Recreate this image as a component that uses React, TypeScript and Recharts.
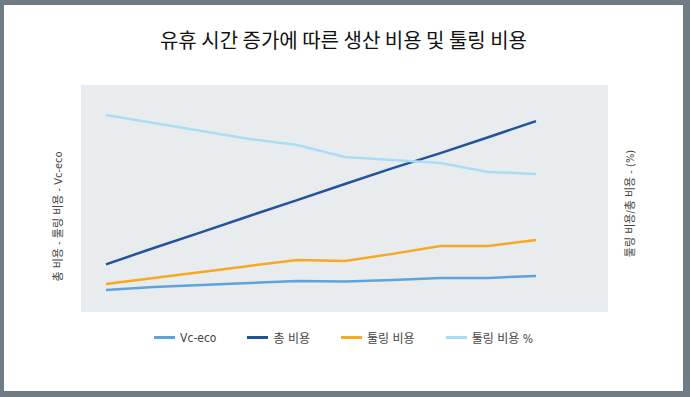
// Production cost vs. idle time line chart.
//
// Four series over ten idle-time steps: cutting cost (Vc-eco), total cost and
// tooling cost on the left axis, tooling share of total cost (%) on the right.
// The source has no tick labels, so both axes run 0-100 on a hidden scale.

import { CartesianGrid, Line, LineChart, XAxis, YAxis } from "recharts";

const steps = ["1", "2", "3", "4", "5", "6", "7", "8", "9", "10"];
const vcEco = [9.7, 11, 11.9, 12.8, 13.7, 13.4, 14.1, 15, 15, 15.9];
const totalCost = [21, 28.2, 35.2, 42.3, 49.3, 56.4, 63.4, 70, 77, 84.1];
const toolingCost = [12.3, 15, 17.6, 20.3, 22.9, 22.5, 25.6, 29.1, 29.1, 31.7];
const toolingShare = [86.8, 83.3, 79.7, 76.2, 73.6, 68.3, 67, 65.6, 61.7, 60.8];

const TITLE = "유휴 시간 증가에 따른 생산 비용 및 툴링 비용";
const LEFT_LABEL = "총 비용 - 툴링 비용 - Vc-eco";
const RIGHT_LABEL = "툴링 비용/총 비용 - (%)";

const SERIES = [
  { key: "vcEco", name: "Vc-eco", color: "#5ea3dc", axis: "left" },
  { key: "total", name: "총 비용", color: "#22529b", axis: "left" },
  { key: "tooling", name: "툴링 비용", color: "#f7a823", axis: "left" },
  { key: "share", name: "툴링 비용 %", color: "#abdcf7", axis: "right" },
];

const LABEL_FONT =
  "'Liberation Sans Narrow', 'DejaVu Sans Condensed', 'Noto Sans CJK KR', sans-serif";

const rows = steps.map((step, i) => ({
  step,
  vcEco: vcEco[i],
  total: totalCost[i],
  tooling: toolingCost[i],
  share: toolingShare[i],
}));

function ChartLegend() {
  return (
    <div
      style={{
        position: "absolute",
        top: 324,
        left: 0,
        width: 679,
        display: "flex",
        justifyContent: "center",
        gap: 31,
        fontFamily: LABEL_FONT,
        fontSize: 12,
        color: "#444",
      }}
    >
      {SERIES.map((s) => (
        <div key={s.key} style={{ display: "flex", alignItems: "center" }}>
          <span
            style={{
              display: "inline-block",
              width: 21,
              height: 3,
              background: s.color,
              marginRight: 5,
            }}
          />
          <span>{s.name}</span>
        </div>
      ))}
    </div>
  );
}

export default function App() {
  return (
    <div
      style={{
        position: "fixed",
        top: 0,
        left: 0,
        width: 679,
        height: 386,
        background: "#fff",
        borderStyle: "solid",
        borderColor: "#6f7c84",
        borderWidth: "5px 7px 6px 4px",
      }}
    >
      <div
        style={{
          position: "absolute",
          top: 20,
          left: 0,
          width: 679,
          textAlign: "center",
          fontFamily: "'Noto Sans CJK KR', sans-serif",
          fontSize: 20,
          color: "#111",
        }}
      >
        {TITLE}
      </div>
      <LineChart
        width={679}
        height={386}
        data={rows}
        margin={{ top: 80, right: 0, bottom: 79, left: 0 }}
      >
        <CartesianGrid
          fill="#e9ecef"
          horizontal={false}
          vertical={false}
          stroke="none"
        />
        <XAxis dataKey="step" hide padding={{ left: 25, right: 72 }} />
        <YAxis
          yAxisId="left"
          width={77}
          domain={[0, 100]}
          tick={false}
          axisLine={false}
          tickLine={false}
          label={{
            value: LEFT_LABEL,
            angle: -90,
            position: "center",
            dx: 16,
            dy: 18,
            fill: "#444",
            fontSize: 11,
            fontFamily: LABEL_FONT,
          }}
        />
        <YAxis
          yAxisId="right"
          orientation="right"
          width={75}
          domain={[0, 100]}
          tick={false}
          axisLine={false}
          tickLine={false}
          label={{
            value: RIGHT_LABEL,
            angle: -90,
            position: "center",
            dx: -15,
            dy: 5,
            fill: "#444",
            fontSize: 11,
            fontFamily: LABEL_FONT,
          }}
        />
        {SERIES.map((s) => (
          <Line
            key={s.key}
            yAxisId={s.axis}
            dataKey={s.key}
            name={s.name}
            stroke={s.color}
            strokeWidth={2.5}
            dot={false}
            activeDot={false}
            isAnimationActive={false}
          />
        ))}
      </LineChart>
      <ChartLegend />
    </div>
  );
}
